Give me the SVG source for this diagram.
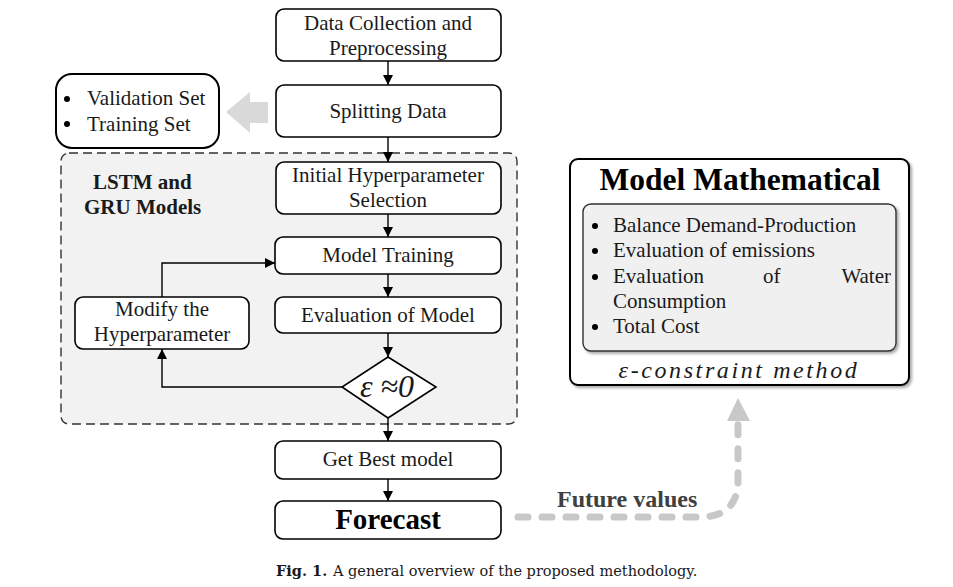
<svg xmlns="http://www.w3.org/2000/svg" width="953" height="587" viewBox="0 0 953 587">
<defs>
<marker id="ah" viewBox="0 0 10 10" refX="10" refY="5" markerWidth="10" markerHeight="10" markerUnits="userSpaceOnUse" orient="auto">
<path d="M0,0 L10,5 L0,10 Z" fill="#000"/>
</marker>
<filter id="sh" x="-5%" y="-5%" width="110%" height="110%">
<feDropShadow dx="2" dy="2" stdDeviation="1.5" flood-color="#000" flood-opacity="0.35"/>
</filter>
</defs>
<style>
.box{fill:#fff;stroke:#000;stroke-width:1.6}
.t{font-family:"Liberation Serif","Times New Roman",serif;font-size:21px;fill:#1a1a1a;text-anchor:middle}
.tl{font-family:"Liberation Serif","Times New Roman",serif;font-size:21px;fill:#1a1a1a}
.b{font-weight:bold}
.c{fill:none;stroke:#000;stroke-width:1.4}
</style>
<rect width="953" height="587" fill="#fff"/>

<g id="container">
<rect x="61" y="153" width="456" height="271" rx="8" fill="#f2f2f2" stroke="#333" stroke-width="1.4" stroke-dasharray="9,5"/>
<text class="tl b" x="93" y="189" style="font-size:21px">LSTM and</text>
<text class="tl b" x="84" y="214" style="font-size:21px">GRU Models</text>
</g>

<g id="connectors">
<line class="c" x1="388" y1="61" x2="388" y2="85" marker-end="url(#ah)"/>
<line class="c" x1="388" y1="137" x2="388" y2="162" marker-end="url(#ah)"/>
<line class="c" x1="388" y1="214" x2="388" y2="237" marker-end="url(#ah)"/>
<line class="c" x1="388" y1="274" x2="388" y2="297" marker-end="url(#ah)"/>
<line class="c" x1="388" y1="333" x2="388" y2="357" marker-end="url(#ah)"/>
<line class="c" x1="388" y1="418" x2="388" y2="441" marker-end="url(#ah)"/>
<line class="c" x1="388" y1="479" x2="388" y2="501" marker-end="url(#ah)"/>
<polyline class="c" points="342,387 162,387 162,349" marker-end="url(#ah)"/>
<polyline class="c" points="162,297 162,263 275,263" marker-end="url(#ah)"/>
<path d="M268,102 L250,102 L250,92 L226,112 L250,133 L250,123 L268,123 Z" fill="#d9d9d9"/>
<path d="M518,517 L700,517 Q738,517 738,480 L738,422" fill="none" stroke="#c8c8c8" stroke-width="7" stroke-linecap="round" stroke-dasharray="10,14"/>
<path d="M727,421 L738,398 L750,421 Z" fill="#c8c8c8"/>
<text x="557" y="507" font-family="'Liberation Serif','Times New Roman',serif" font-size="24" font-weight="bold" fill="#404040">Future values</text>
</g>

<g id="n-data">
<rect class="box" x="276" y="9" width="225" height="52" rx="8"/>
<text class="t" x="388" y="30">Data Collection and</text>
<text class="t" x="388" y="55">Preprocessing</text>
</g>

<g id="n-split">
<rect class="box" x="276" y="85" width="225" height="52" rx="8"/>
<text class="t" x="388" y="118">Splitting Data</text>
</g>

<g id="n-sets">
<rect x="56" y="74" width="163" height="74" rx="16" fill="#fff" stroke="#000" stroke-width="2"/>
<circle cx="67" cy="99" r="3" fill="#000"/>
<circle cx="67" cy="124" r="3" fill="#000"/>
<text class="tl" x="87" y="105">Validation Set</text>
<text class="tl" x="87" y="131">Training Set</text>
</g>

<g id="n-init">
<rect class="box" x="276" y="162" width="225" height="52" rx="8"/>
<text class="t" x="388" y="182">Initial Hyperparameter</text>
<text class="t" x="388" y="207">Selection</text>
</g>

<g id="n-train">
<rect class="box" x="275" y="237" width="226" height="37" rx="8"/>
<text class="t" x="388" y="262">Model Training</text>
</g>

<g id="n-eval">
<rect class="box" x="275" y="297" width="226" height="36" rx="8"/>
<text class="t" x="388" y="322">Evaluation of Model</text>
</g>

<g id="n-modify">
<rect class="box" x="75" y="297" width="174" height="52" rx="8"/>
<text class="t" x="162" y="316">Modify the</text>
<text class="t" x="162" y="341">Hyperparameter</text>
</g>

<g id="n-decision">
<polygon points="388,357 436,387 388,418 342,387" fill="#fff" stroke="#000" stroke-width="1.6"/>
<text class="t" x="387" y="397" style="font-size:32px;font-style:italic">ε ≈0</text>
</g>

<g id="n-best">
<rect class="box" x="275" y="441" width="226" height="38" rx="8"/>
<text class="t" x="388" y="466">Get Best model</text>
</g>

<g id="n-forecast">
<rect class="box" x="275" y="501" width="226" height="38" rx="8"/>
<text class="t b" x="388" y="529" style="font-size:29px;fill:#000">Forecast</text>
</g>

<g id="n-math">
<rect x="570" y="159" width="339" height="226" rx="8" fill="#fff" stroke="#000" stroke-width="2" filter="url(#sh)"/>
<text class="t b" x="740" y="190" style="font-size:31.5px;fill:#000">Model Mathematical</text>
<rect x="583" y="204" width="313" height="147" rx="8" fill="#f0f0f0" stroke="#333" stroke-width="1.4" filter="url(#sh)"/>
<circle cx="595" cy="226" r="3" fill="#000"/>
<circle cx="595" cy="251" r="3" fill="#000"/>
<circle cx="595" cy="277" r="3" fill="#000"/>
<circle cx="595" cy="327" r="3" fill="#000"/>
<text class="tl" x="613" y="232">Balance Demand-Production</text>
<text class="tl" x="613" y="257">Evaluation of emissions</text>
<text class="tl" x="613" y="283">Evaluation</text>
<text class="tl" x="763" y="283">of</text>
<text class="tl" x="891" y="283" text-anchor="end">Water</text>
<text class="tl" x="613" y="308">Consumption</text>
<text class="tl" x="613" y="333">Total Cost</text>
<text class="t" x="739" y="378" style="font-size:24px;font-style:italic;letter-spacing:2.6px">ε-constraint method</text>
</g>

<g id="caption">
<text x="276" y="576" font-family="'DejaVu Serif',serif" font-size="14.5" font-weight="bold" fill="#1a1a1a">Fig. 1.</text>
<text x="333" y="576" font-family="'DejaVu Serif',serif" font-size="14.5" fill="#1a1a1a">A general overview of the proposed methodology.</text>
</g>
</svg>
